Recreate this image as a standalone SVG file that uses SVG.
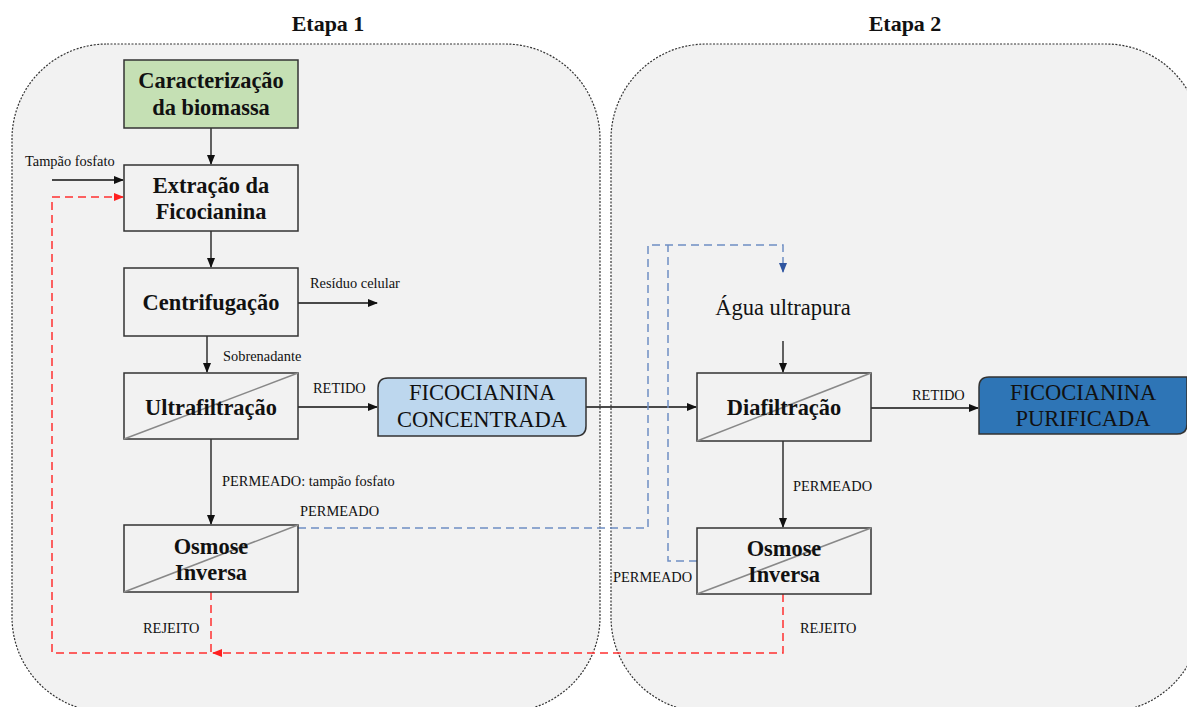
<svg xmlns="http://www.w3.org/2000/svg" width="1187" height="707" viewBox="0 0 1187 707">
<defs>
<style>
.cont{fill:#f2f2f2;stroke:#333;stroke-width:1.2;stroke-dasharray:2 1.5}
.box{fill:#f2f2f2;stroke:#333;stroke-width:1.5}
.diag{stroke:#888;stroke-width:1.5}
.tb{font-family:"Liberation Serif",serif;font-weight:bold;font-size:22.4px;fill:#111;text-anchor:middle}
.tn{font-family:"Liberation Serif",serif;font-size:22.5px;fill:#111;text-anchor:middle}
.lbl{font-family:"Liberation Serif",serif;font-size:14.4px;fill:#111}
.title{font-family:"Liberation Serif",serif;font-weight:bold;font-size:22px;fill:#111;text-anchor:middle}
.ln{fill:none;stroke:#111;stroke-width:1.3}
.red{fill:none;stroke:#ff3030;stroke-width:1.5;stroke-dasharray:8 5}
.blue{fill:none;stroke:#6f8fc4;stroke-width:1.5;stroke-dasharray:8 5}
</style>
<marker id="ab" markerWidth="10" markerHeight="10" refX="9" refY="5" orient="auto" markerUnits="userSpaceOnUse"><path d="M0,1 L10,5 L0,9 Z" fill="#111"/></marker>
<marker id="ar" markerWidth="10" markerHeight="10" refX="9" refY="5" orient="auto" markerUnits="userSpaceOnUse"><path d="M0,1 L10,5 L0,9 Z" fill="#ff2020"/></marker>
<marker id="abl" markerWidth="10" markerHeight="10" refX="9" refY="5" orient="auto" markerUnits="userSpaceOnUse"><path d="M0,1 L10,5 L0,9 Z" fill="#2f55a0"/></marker>
</defs>
<rect width="1187" height="707" fill="#ffffff"/>

<g id="etapa1">
<rect class="cont" x="12" y="44" width="588" height="668" rx="95" ry="95"/>
<text class="title" x="328" y="31">Etapa 1</text>
</g>
<g id="etapa2">
<rect class="cont" x="611" y="44" width="590" height="668" rx="95" ry="95"/>
<text class="title" x="905" y="31">Etapa 2</text>
</g>

<g id="connectors">
<path class="ln" d="M211,128 V164" marker-end="url(#ab)"/>
<path class="ln" d="M52,180 H123" marker-end="url(#ab)"/>
<path class="ln" d="M211,231 V267" marker-end="url(#ab)"/>
<path class="ln" d="M298,303 H377" marker-end="url(#ab)"/>
<path class="ln" d="M207,336 V372" marker-end="url(#ab)"/>
<path class="ln" d="M298,407 H377" marker-end="url(#ab)"/>
<path class="ln" d="M211,439 V524" marker-end="url(#ab)"/>
<path class="ln" d="M586,407 H696" marker-end="url(#ab)"/>
<path class="ln" d="M783,341 V372" marker-end="url(#ab)"/>
<path class="ln" d="M871,408 H978" marker-end="url(#ab)"/>
<path class="ln" d="M783,441 V527" marker-end="url(#ab)"/>
<path class="red" d="M211,592 V653 H52 V197 H123" marker-end="url(#ar)"/>
<path class="red" d="M783,594 V653 H213" marker-end="url(#ar)"/>
<path class="blue" d="M298,528 H648 V245 H783 V272" marker-end="url(#abl)"/>
<path class="blue" d="M697,561 H668 V245"/>
<text class="lbl" x="25" y="166">Tampão fosfato</text>
<text class="lbl" x="310" y="288">Resíduo celular</text>
<text class="lbl" x="223" y="361">Sobrenadante</text>
<text class="lbl" x="313" y="393">RETIDO</text>
<text class="lbl" x="222" y="486">PERMEADO: tampão fosfato</text>
<text class="lbl" x="300" y="516">PERMEADO</text>
<text class="lbl" x="143" y="633">REJEITO</text>
<text class="lbl" x="912" y="400">RETIDO</text>
<text class="lbl" x="793" y="491">PERMEADO</text>
<text class="lbl" x="613" y="582">PERMEADO</text>
<text class="lbl" x="800" y="633">REJEITO</text>
</g>

<g id="caracterizacao">
<rect x="124" y="60" width="174" height="68" fill="#c5e0b4" stroke="#333" stroke-width="1.5"/>
<text class="tb" x="211" y="88">Caracterização</text>
<text class="tb" x="211" y="115">da biomassa</text>
</g>
<g id="extracao">
<rect class="box" x="124" y="165" width="174" height="66"/>
<text class="tb" x="211" y="193">Extração da</text>
<text class="tb" x="211" y="219">Ficocianina</text>
</g>
<g id="centrifugacao">
<rect class="box" x="124" y="268" width="174" height="68"/>
<text class="tb" x="211" y="310">Centrifugação</text>
</g>
<g id="ultrafiltracao">
<rect class="box" x="124" y="373" width="174" height="66"/>
<line class="diag" x1="124" y1="439" x2="298" y2="373"/>
<text class="tb" x="211" y="415">Ultrafiltração</text>
</g>
<g id="osmose1">
<rect class="box" x="124" y="525" width="174" height="67"/>
<line class="diag" x1="124" y1="592" x2="298" y2="525"/>
<text class="tb" x="211" y="554">Osmose</text>
<text class="tb" x="211" y="580">Inversa</text>
</g>
<g id="ficocianina_concentrada">
<path d="M388,378 H586 V426 Q586,436 576,436 H378 V388 Q378,378 388,378 Z" fill="#bdd7ee" stroke="#333" stroke-width="1.5"/>
<text class="tn" x="482" y="400">FICOCIANINA</text>
<text class="tn" x="482" y="427">CONCENTRADA</text>
</g>
<g id="agua">
<text class="tn" x="783" y="315">Água ultrapura</text>
</g>
<g id="diafiltracao">
<rect class="box" x="697" y="373" width="174" height="68"/>
<line class="diag" x1="697" y1="441" x2="871" y2="373"/>
<text class="tb" x="784" y="415">Diafiltração</text>
</g>
<g id="ficocianina_purificada">
<path d="M989,377 H1187 V424 Q1187,434 1177,434 H979 V387 Q979,377 989,377 Z" fill="#2e75b6" stroke="#333" stroke-width="1.5"/>
<text class="tn" x="1083" y="400">FICOCIANINA</text>
<text class="tn" x="1083" y="426">PURIFICADA</text>
</g>
<g id="osmose2">
<rect class="box" x="697" y="528" width="174" height="66"/>
<line class="diag" x1="697" y1="594" x2="871" y2="528"/>
<text class="tb" x="784" y="556">Osmose</text>
<text class="tb" x="784" y="582">Inversa</text>
</g>
</svg>
